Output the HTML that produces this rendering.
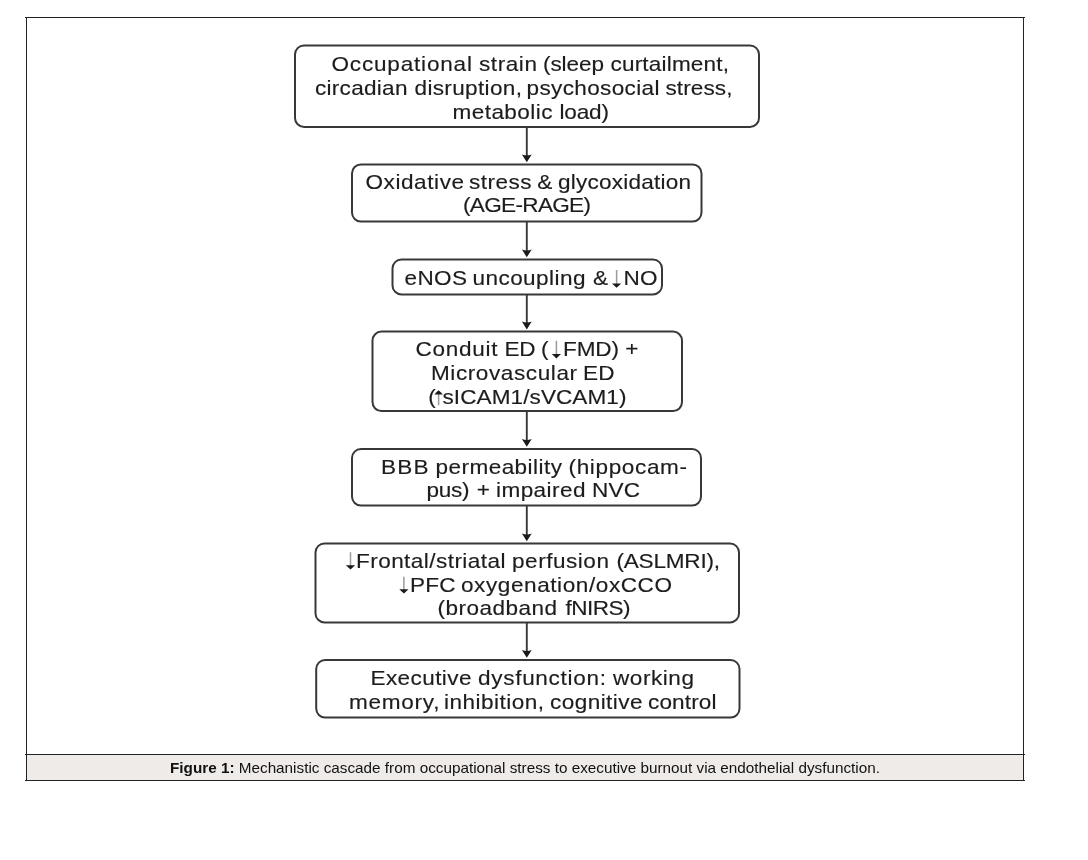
<!DOCTYPE html>
<html>
<head>
<meta charset="utf-8">
<style>
html,body{margin:0;padding:0;background:#fff;width:1088px;height:860px;overflow:hidden}
svg{position:absolute;left:0;top:0;display:block}
.t text{font-family:"Liberation Sans",sans-serif;font-size:20.5px;fill:#1c1c1c;stroke:#1c1c1c;stroke-width:0.15px}
.cap{font-family:"Liberation Sans",sans-serif;font-size:15px;fill:#111}
</style>
</head>
<body>
<svg width="1088" height="860" viewBox="0 0 1088 860">
  <defs><filter id="soft" filterUnits="userSpaceOnUse" x="0" y="0" width="1088" height="860"><feGaussianBlur stdDeviation="0.35"/></filter></defs>
  <rect x="27" y="755" width="996" height="25" fill="#efebe9"/>
  <g stroke="#222" stroke-width="1" fill="none" shape-rendering="crispEdges">
    <line x1="25" y1="17.5" x2="1025" y2="17.5"/>
    <line x1="26.5" y1="17" x2="26.5" y2="781"/>
    <line x1="1023.5" y1="17" x2="1023.5" y2="781"/>
    <line x1="25" y1="754.5" x2="1025" y2="754.5"/>
    <line x1="25" y1="780.5" x2="1025" y2="780.5"/>
  </g>
  <g stroke="#383838" stroke-width="2.0" fill="none">
    <rect x="295" y="45.5" width="464.00" height="81.40" rx="9"/>
    <rect x="352" y="164.4" width="349.50" height="57.20" rx="9"/>
    <rect x="392.5" y="259.5" width="269.50" height="34.90" rx="9"/>
    <rect x="372.5" y="331.6" width="309.50" height="79.50" rx="9"/>
    <rect x="352" y="449" width="349.00" height="56.60" rx="9"/>
    <rect x="315.5" y="543.5" width="423.50" height="78.90" rx="9"/>
    <rect x="316.2" y="660" width="423.30" height="57.60" rx="9"/>
  </g>
  <g stroke="#383838" stroke-width="1.9" fill="none">
    <line x1="526.8" y1="126.9" x2="526.8" y2="159.40"/>
    <line x1="526.8" y1="221.6" x2="526.8" y2="254.50"/>
    <line x1="526.8" y1="294.4" x2="526.8" y2="326.60"/>
    <line x1="526.8" y1="411.1" x2="526.8" y2="444.00"/>
    <line x1="526.8" y1="505.6" x2="526.8" y2="538.50"/>
    <line x1="526.8" y1="622.4" x2="526.8" y2="655.00"/>
  </g>
  <g fill="#1a1a1a">
    <path d="M521.90 154.40 L526.80 162.20 L531.70 154.40 Q526.80 156.20 521.90 154.40 Z"/>
    <path d="M521.90 249.50 L526.80 257.30 L531.70 249.50 Q526.80 251.30 521.90 249.50 Z"/>
    <path d="M521.90 321.60 L526.80 329.40 L531.70 321.60 Q526.80 323.40 521.90 321.60 Z"/>
    <path d="M521.90 439.00 L526.80 446.80 L531.70 439.00 Q526.80 440.80 521.90 439.00 Z"/>
    <path d="M521.90 533.50 L526.80 541.30 L531.70 533.50 Q526.80 535.30 521.90 533.50 Z"/>
    <path d="M521.90 650.00 L526.80 657.80 L531.70 650.00 Q526.80 651.80 521.90 650.00 Z"/>
  </g>
  
  <g class="t" filter="url(#soft)">
    <g transform="translate(331.5 0) scale(1.1 1)"><text x="0" y="70.8" textLength="127.73" lengthAdjust="spacing">Occupational</text></g>
    <g transform="translate(479.0 0) scale(1.1 1)"><text x="0" y="70.8" textLength="52.73" lengthAdjust="spacing">strain</text></g>
    <g transform="translate(543.0 0) scale(1.1 1)"><text x="0" y="70.8" textLength="55.45" lengthAdjust="spacing">(sleep</text></g>
    <g transform="translate(610.5 0) scale(1.1 1)"><text x="0" y="70.8" textLength="107.73" lengthAdjust="spacing">curtailment,</text></g>
    <g transform="translate(315.0 0) scale(1.1 1)"><text x="0" y="94.7" textLength="84.09" lengthAdjust="spacing">circadian</text></g>
    <g transform="translate(414.5 0) scale(1.1 1)"><text x="0" y="94.7" textLength="97.73" lengthAdjust="spacing">disruption,</text></g>
    <g transform="translate(526.5 0) scale(1.1 1)"><text x="0" y="94.7" textLength="120.91" lengthAdjust="spacing">psychosocial</text></g>
    <g transform="translate(665.5 0) scale(1.1 1)"><text x="0" y="94.7" textLength="60.91" lengthAdjust="spacing">stress,</text></g>
    <g transform="translate(452.5 0) scale(1.1 1)"><text x="0" y="118.6" textLength="90.91" lengthAdjust="spacing">metabolic</text></g>
    <g transform="translate(559.5 0) scale(1.1 1)"><text x="0" y="118.6" textLength="45.00" lengthAdjust="spacing">load)</text></g>
    <g transform="translate(365.5 0) scale(1.1 1)"><text x="0" y="188.9" textLength="89.55" lengthAdjust="spacing">Oxidative</text></g>
    <g transform="translate(469.0 0) scale(1.1 1)"><text x="0" y="188.9" textLength="56.82" lengthAdjust="spacing">stress</text></g>
    <g transform="translate(537.1999999999998 0) scale(1.1 1)"><text x="0" y="188.9">&amp;</text></g>
    <g transform="translate(558.0 0) scale(1.1 1)"><text x="0" y="188.9" textLength="120.91" lengthAdjust="spacing">glycoxidation</text></g>
    <g transform="translate(463.0 0) scale(1.1 1)"><text x="0" y="212.1" textLength="116.36" lengthAdjust="spacing">(AGE-RAGE)</text></g>
    <g transform="translate(404.5 0) scale(1.1 1)"><text x="0" y="284.6" textLength="56.82" lengthAdjust="spacing">eNOS</text></g>
    <g transform="translate(472.5 0) scale(1.1 1)"><text x="0" y="284.6" textLength="102.73" lengthAdjust="spacing">uncoupling</text></g>
    <g transform="translate(593.0 0) scale(1.1 1)"><text x="0" y="284.6">&amp;</text></g>
    <g transform="translate(623.5 0) scale(1.1 1)"><text x="0" y="284.6" textLength="30.91" lengthAdjust="spacing">NO</text></g>
    <g transform="translate(415.5 0) scale(1.1 1)"><text x="0" y="356.1" textLength="74.55" lengthAdjust="spacing">Conduit</text></g>
    <g transform="translate(504.5 0) scale(1.1 1)"><text x="0" y="356.1" textLength="28.18" lengthAdjust="spacing">ED</text></g>
    <g transform="translate(541.0 0) scale(1.1 1)"><text x="0" y="356.1">(</text></g>
    <g transform="translate(563.0 0) scale(1.1 1)"><text x="0" y="356.1" textLength="50.91" lengthAdjust="spacing">FMD)</text></g>
    <g transform="translate(625.1999999999998 0) scale(1.1 1)"><text x="0" y="356.1">+</text></g>
    <g transform="translate(431.0 0) scale(1.1 1)"><text x="0" y="380.1" textLength="132.73" lengthAdjust="spacing">Microvascular</text></g>
    <g transform="translate(583.0 0) scale(1.1 1)"><text x="0" y="380.1" textLength="28.64" lengthAdjust="spacing">ED</text></g>
    <g transform="translate(428.20000000000005 0) scale(1.1 1)"><text x="0" y="404.1">(</text></g>
    <g transform="translate(442.5 0) scale(1.1 1)"><text x="0" y="404.1" textLength="167.27" lengthAdjust="spacing">sICAM1/sVCAM1)</text></g>
    <g transform="translate(381.0 0) scale(1.1 1)"><text x="0" y="473.7" textLength="43.18" lengthAdjust="spacing">BBB</text></g>
    <g transform="translate(435.5 0) scale(1.1 1)"><text x="0" y="473.7" textLength="115.00" lengthAdjust="spacing">permeability</text></g>
    <g transform="translate(568.5 0) scale(1.1 1)"><text x="0" y="473.7" textLength="107.73" lengthAdjust="spacing">(hippocam-</text></g>
    <g transform="translate(426.5 0) scale(1.1 1)"><text x="0" y="496.6" textLength="39.09" lengthAdjust="spacing">pus)</text></g>
    <g transform="translate(476.79999999999995 0) scale(1.1 1)"><text x="0" y="496.6">+</text></g>
    <g transform="translate(496.0 0) scale(1.1 1)"><text x="0" y="496.6" textLength="81.36" lengthAdjust="spacing">impaired</text></g>
    <g transform="translate(592.0 0) scale(1.1 1)"><text x="0" y="496.6" textLength="43.64" lengthAdjust="spacing">NVC</text></g>
    <g transform="translate(356.0 0) scale(1.1 1)"><text x="0" y="567.6" textLength="135.91" lengthAdjust="spacing">Frontal/striatal</text></g>
    <g transform="translate(512.0 0) scale(1.1 1)"><text x="0" y="567.6" textLength="88.18" lengthAdjust="spacing">perfusion</text></g>
    <g transform="translate(616.5 0) scale(1.1 1)"><text x="0" y="567.6" textLength="94.09" lengthAdjust="spacing">(ASLMRI),</text></g>
    <g transform="translate(410.0 0) scale(1.1 1)"><text x="0" y="592.3" textLength="41.36" lengthAdjust="spacing">PFC</text></g>
    <g transform="translate(461.0 0) scale(1.1 1)"><text x="0" y="592.3" textLength="191.82" lengthAdjust="spacing">oxygenation/oxCCO</text></g>
    <g transform="translate(437.5 0) scale(1.1 1)"><text x="0" y="615.4" textLength="108.64" lengthAdjust="spacing">(broadband</text></g>
    <g transform="translate(565.5 0) scale(1.1 1)"><text x="0" y="615.4" textLength="59.09" lengthAdjust="spacing">fNIRS)</text></g>
    <g transform="translate(370.5 0) scale(1.1 1)"><text x="0" y="684.6" textLength="91.82" lengthAdjust="spacing">Executive</text></g>
    <g transform="translate(478.0 0) scale(1.1 1)"><text x="0" y="684.6" textLength="116.36" lengthAdjust="spacing">dysfunction:</text></g>
    <g transform="translate(613.0 0) scale(1.1 1)"><text x="0" y="684.6" textLength="73.64" lengthAdjust="spacing">working</text></g>
    <g transform="translate(349.0 0) scale(1.1 1)"><text x="0" y="708.6" textLength="82.27" lengthAdjust="spacing">memory,</text></g>
    <g transform="translate(444.0 0) scale(1.1 1)"><text x="0" y="708.6" textLength="90.91" lengthAdjust="spacing">inhibition,</text></g>
    <g transform="translate(550.0 0) scale(1.1 1)"><text x="0" y="708.6" textLength="84.09" lengthAdjust="spacing">cognitive</text></g>
    <g transform="translate(648.0 0) scale(1.1 1)"><text x="0" y="708.6" textLength="62.27" lengthAdjust="spacing">control</text></g>
  </g>
  <rect x="615.85" y="270" width="1.5" height="14.50" fill="#9a9a9a"/><path d="M612.00 283.5 L621.20 283.5 L618.80 285.70 L616.60 287.8 L614.40 285.70 Z" fill="#1a1a1a"/>
  <rect x="555.65" y="340.8" width="1.5" height="14.20" fill="#9a9a9a"/><path d="M551.80 354 L561.00 354 L558.60 356.20 L556.40 358.4 L554.20 356.20 Z" fill="#1a1a1a"/>
  <rect x="437.85" y="393.50" width="1.5" height="11.70" fill="#9a9a9a"/><path d="M434.40 394.5 L442.80 394.5 L440.80 392.30 L438.60 390.3 L436.40 392.30 Z" fill="#1a1a1a"/>
  <rect x="349.75" y="552.2" width="1.5" height="14.00" fill="#9a9a9a"/><path d="M345.90 565.2 L355.10 565.2 L352.70 567.40 L350.50 569.5 L348.30 567.40 Z" fill="#1a1a1a"/>
  <rect x="403.15" y="576.7" width="1.5" height="13.60" fill="#9a9a9a"/><path d="M399.30 589.3 L408.50 589.3 L406.10 591.50 L403.90 593.5 L401.70 591.50 Z" fill="#1a1a1a"/>
  <text class="cap" x="170" y="772.5" textLength="710" lengthAdjust="spacingAndGlyphs"><tspan font-weight="bold">Figure 1:</tspan> Mechanistic cascade from occupational stress to executive burnout via endothelial dysfunction.</text>
</svg>
</body>
</html>
